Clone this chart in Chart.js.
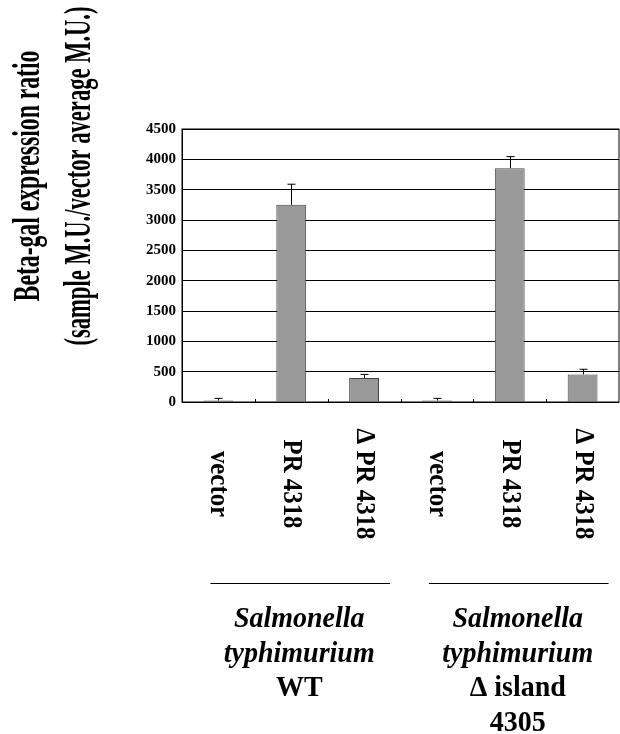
<!DOCTYPE html>
<html>
<head>
<meta charset="utf-8">
<script src="https://cdn.jsdelivr.net/npm/chart.js@4.4.1/dist/chart.umd.min.js"></script>
<style>
  html, body { margin: 0; padding: 0; background: #fff; }
  #wrap { width: 620px; height: 734px; position: relative; }
</style>
</head>
<body>
<div id="wrap"><canvas id="betaGalChart"></canvas></div>
<script>
const categories = ["vector", "PR 4318", "\u0394 PR 4318", "vector", "PR 4318", "\u0394 PR 4318"];
const expressionRatio = [25, 3250, 395, 25, 3855, 455];
const errorUp = [35, 340, 60, 35, 190, 85];
const yTicks = [0, 500, 1000, 1500, 2000, 2500, 3000, 3500, 4000, 4500];
const groupLabels = [
  ["Salmonella", "typhimurium", "WT"],
  ["Salmonella", "typhimurium", "\u0394 island", "4305"],
];
const groupItalicLines = 2;
const yTitle = ["Beta-gal expression ratio", "(sample M.U./vector average M.U.)"];

const serif = "'Liberation Serif', 'Times New Roman', serif";

const extrasPlugin = {
  id: "extras",
  afterDatasetsDraw(chart) {
    const ctx = chart.ctx;
    const area = chart.chartArea;
    const y = chart.scales.y;
    const bars = chart.getDatasetMeta(0).data;

    ctx.save();
    // error bars (upper only)
    ctx.strokeStyle = "#000";
    ctx.lineWidth = 1;
    bars.forEach((bar, i) => {
      const x = Math.round(bar.x) + 0.5;
      const top = y.getPixelForValue(expressionRatio[i] + errorUp[i]);
      ctx.beginPath();
      ctx.moveTo(x, bar.y);
      ctx.lineTo(x, top);
      ctx.moveTo(x - 4, top);
      ctx.lineTo(x + 4, top);
      ctx.stroke();
    });

    // plot frame
    ctx.strokeRect(area.left, area.top, area.right - area.left, area.bottom - area.top);

    // small inward ticks at category boundaries
    const step = (area.right - area.left) / categories.length;
    ctx.beginPath();
    for (let i = 1; i < categories.length; i++) {
      const bx = Math.round(area.left + i * step) + 0.5;
      ctx.moveTo(bx, area.bottom);
      ctx.lineTo(bx, area.bottom - 3);
    }
    ctx.stroke();

    // rotated category labels (read top to bottom)
    ctx.fillStyle = "#000";
    ctx.font = "bold 27px " + serif;
    ctx.textAlign = "center";
    ctx.textBaseline = "middle";
    bars.forEach((bar, i) => {
      ctx.save();
      ctx.translate(bar.x, 484);
      ctx.rotate(Math.PI / 2);
      ctx.scale(0.92, 1);
      ctx.fillText(categories[i], 0, 0);
      ctx.restore();
    });

    // group lines and labels
    groupLabels.forEach((lines, g) => {
      const first = bars[g * 3].x;
      const last = bars[g * 3 + 2].x;
      ctx.beginPath();
      ctx.moveTo(first - 8, 583.5);
      ctx.lineTo(last + 26, 583.5);
      ctx.stroke();

      const cx = (first + last) / 2 + 8;
      ctx.textBaseline = "alphabetic";
      lines.forEach((line, k) => {
        ctx.font = (k < groupItalicLines ? "italic bold 28px " : "bold 28px ") + serif;
        ctx.save();
        ctx.translate(cx, 627 + k * 34.5);
        ctx.scale(1, 1.08);
        ctx.fillText(line, 0, 0);
        ctx.restore();
      });
    });

    // y axis title, two rotated lines
    ctx.font = "bold 37px " + serif;
    ctx.textBaseline = "middle";
    const titleScale = [0.64, 0.61];
    [29, 80].forEach((tx, k) => {
      ctx.save();
      ctx.translate(tx, 176);
      ctx.rotate(-Math.PI / 2);
      ctx.scale(titleScale[k], 1);
      ctx.fillText(yTitle[k], 0, 0);
      ctx.restore();
    });
    ctx.restore();
  },
};

const ctx = document.getElementById("betaGalChart").getContext("2d");

new Chart(ctx, {
  type: "bar",
  data: {
    labels: categories,
    datasets: [
      {
        data: expressionRatio,
        backgroundColor: "#999999",
        borderColor: "#444444",
        borderWidth: 1,
        barPercentage: 0.41,
        categoryPercentage: 1,
      },
    ],
  },
  options: {
    responsive: true,
    maintainAspectRatio: false,
    animation: false,
    events: [],
    layout: {
      padding: { top: 129, left: 0, right: 1, bottom: 0 },
    },
    plugins: {
      legend: { display: false },
      tooltip: { enabled: false },
    },
    scales: {
      x: {
        grid: { display: false },
        border: { display: false },
        ticks: { display: false },
        afterFit: function (scale) {
          scale.height = 332;
        },
      },
      y: {
        min: 0,
        max: 4500,
        afterBuildTicks: function (scale) {
          scale.ticks = yTicks.map((v) => ({ value: v }));
        },
        grid: { color: "#000", lineWidth: 1, drawTicks: false },
        border: { display: true, color: "#000" },
        ticks: {
          color: "#000",
          padding: 6,
          font: { size: 15, weight: "bold", family: serif },
          callback: function (value) {
            return String(value);
          },
        },
        afterFit: function (scale) {
          scale.width = 182;
        },
      },
    },
  },
  plugins: [extrasPlugin],
});
</script>
</body>
</html>
